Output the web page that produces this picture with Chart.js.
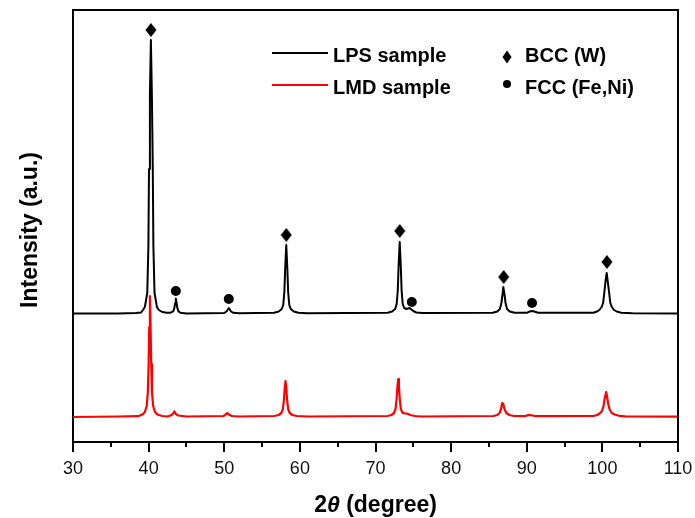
<!DOCTYPE html>
<html>
<head>
<meta charset="utf-8">
<script src="https://cdn.jsdelivr.net/npm/chart.js@4/dist/chart.umd.min.js"></script>
<style>
  body { margin: 0; background: #fff; }
  #grafica { display: block; }
</style>
</head>
<body>
<canvas id="grafica" width="695" height="518"></canvas>
<script>
const anguloLPS = [30, 36, 38.3, 39.0, 39.25, 39.5, 39.82, 39.97, 40.05, 40.17, 40.3, 40.43, 40.55, 40.63,
  40.78, 41.1, 41.35, 41.8, 42.4, 42.9, 43.25, 43.4, 43.5, 43.6, 43.7, 43.8, 43.95, 44.2, 45,
  50.0, 50.3, 50.45, 50.6, 50.75, 50.9, 51.2, 52, 56.6, 57.2, 57.6, 57.8, 57.95, 58.05, 58.2,
  58.35, 58.45, 58.6, 58.8, 59.2, 59.8, 61, 71.6, 72.2, 72.6, 72.8, 72.95, 73.05, 73.2, 73.35,
  73.45, 73.6, 73.8, 74.1, 74.5, 74.75, 75.0, 75.4, 76.2, 85.5, 86.1, 86.45, 86.65, 86.8, 86.9,
  87.05, 87.2, 87.4, 87.75, 88.4, 90.0, 90.4, 90.7, 91.0, 91.5, 98.8, 99.3, 99.6, 99.9, 100.1,
  100.25, 100.4, 100.57, 100.72, 100.9, 101.05, 101.25, 101.55, 101.9, 102.5, 104, 110];
const intensidadLPS = [128.5, 128.5, 129, 129.5, 132, 135, 149, 196, 273, 347, 402, 347, 273, 196,
  149, 135, 132, 130, 129.2, 129.3, 130.6, 133.8, 138.8, 143.4, 138.8, 133.8, 130.6, 129.3, 128.6,
  129, 130.5, 132.3, 134, 132.3, 130.5, 129.2, 128.7, 129.2, 130.5, 133, 137, 150, 172, 197,
  172, 150, 137, 133, 130.5, 129.2, 128.8, 129.2, 130.5, 133, 138, 152, 175, 200, 175,
  152, 138, 134, 133, 134, 132.5, 131, 129.5, 129, 129.2, 130.5, 133, 139, 148, 155,
  148, 139, 133, 130.5, 129.2, 129.2, 130.5, 131, 130.5, 129.3, 129.3, 130.5, 132, 135, 139,
  149, 160, 169, 160, 149, 139, 135, 132, 130.5, 129.3, 128.8, 128.5];

const anguloLMD = [30, 36, 38.6, 39.2, 39.5, 39.75, 39.9, 40.0, 40.08, 40.17, 40.26, 40.34, 40.44, 40.6,
  40.85, 41.15, 41.8, 42.5, 42.9, 43.2, 43.4, 43.6, 43.9, 45, 49.9, 50.2, 50.4, 50.6, 51.0, 52,
  56.6, 57.2, 57.55, 57.75, 57.9, 58.0, 58.1, 58.2, 58.3, 58.45, 58.65, 59.0, 59.6, 61, 71.6,
  72.1, 72.45, 72.65, 72.8, 72.9, 73.0, 73.1, 73.2, 73.35, 73.55, 73.8, 74.1, 74.3, 74.6, 75.2,
  76, 85.6, 86.1, 86.4, 86.6, 86.75, 86.9, 87.05, 87.3, 87.7, 88.3, 89.7, 90.2, 90.6, 91.2,
  98.8, 99.3, 99.65, 99.95, 100.15, 100.3, 100.5, 100.65, 100.8, 100.98, 101.25, 101.6, 102.2,
  103, 110];
const intensidadLMD = [25, 25.5, 25.8, 27.5, 30, 36, 50, 78, 115, 146, 115, 78, 50, 36,
  30, 27.5, 26, 25.5, 26.5, 28, 30.5, 28, 26.5, 25.5, 26, 27.5, 29, 27.5, 26, 25.5,
  26, 27, 29, 33, 43, 54, 61, 54, 43, 33, 29, 27, 26, 25.5, 26,
  27, 29, 33, 44, 55, 63, 55, 44, 33, 29.5, 28.5, 28.5, 28, 27, 26,
  25.5, 26, 27, 29, 33, 39, 38, 33, 29, 27, 26, 25.8, 27, 26.8, 25.8,
  26, 27, 28.5, 31, 36, 43, 50, 44, 37, 32, 29, 27.5, 26.2,
  25.7, 25.3];

// marcadores de fases
const anguloBCC = [40.3, 58.2, 73.2, 86.95, 100.6];
const alturaBCC = [412, 207, 211, 165, 180];
const anguloFCC = [43.6, 50.6, 74.8, 90.7];
const alturaFCC = [151, 143, 140, 139];

const ticksX = [30, 40, 50, 60, 70, 80, 90, 100, 110];
const ticksMenores = [35, 45, 55, 65, 75, 85, 95, 105];

const fuente = '"Liberation Sans", Arial, sans-serif';

function puntos(xs, ys) {
  return xs.map((x, i) => ({ x: x, y: ys[i] }));
}

function dibujarRombo(ctx, cx, cy, ancho, alto) {
  ctx.beginPath();
  ctx.moveTo(cx, cy - alto / 2);
  ctx.lineTo(cx + ancho / 2, cy);
  ctx.lineTo(cx, cy + alto / 2);
  ctx.lineTo(cx - ancho / 2, cy);
  ctx.closePath();
  ctx.fill();
}

// rombo un poco mas alto que ancho, como en la figura
const rombo = document.createElement("canvas");
rombo.width = 12;
rombo.height = 14;
const ctxRombo = rombo.getContext("2d");
ctxRombo.fillStyle = "#000";
dibujarRombo(ctxRombo, 6, 7, 11, 14);

// marco, ticks menores, titulos de ejes y leyenda
const decoracion = {
  id: "decoracion",
  afterDraw(chart) {
    const ctx = chart.ctx;
    const area = chart.chartArea;
    const escalaX = chart.scales.x;
    ctx.save();
    ctx.strokeStyle = "#000";
    ctx.lineWidth = 2;
    ctx.beginPath();
    ctx.moveTo(area.left, area.top);
    ctx.lineTo(area.right, area.top);
    ctx.lineTo(area.right, area.bottom);
    ctx.stroke();

    ticksMenores.forEach((v) => {
      const px = Math.round(escalaX.getPixelForValue(v));
      ctx.beginPath();
      ctx.moveTo(px, area.bottom);
      ctx.lineTo(px, area.bottom + 5);
      ctx.stroke();
    });

    // titulo eje x: 2θ (degree)
    ctx.fillStyle = "#000";
    ctx.textBaseline = "alphabetic";
    const partes = [
      { t: "2", f: "bold 23px " + fuente },
      { t: "\u03B8", f: "italic bold 23px " + fuente },
      { t: " (degree)", f: "bold 23px " + fuente },
    ];
    let ancho = 0;
    partes.forEach((p) => { ctx.font = p.f; p.w = ctx.measureText(p.t).width; ancho += p.w; });
    let x = (area.left + area.right) / 2 - ancho / 2;
    partes.forEach((p) => { ctx.font = p.f; ctx.fillText(p.t, x, 512); x += p.w; });

    // titulo eje y
    ctx.save();
    ctx.translate(37, 230);
    ctx.rotate(-Math.PI / 2);
    ctx.font = "bold 23px " + fuente;
    ctx.textAlign = "center";
    ctx.fillText("Intensity (a.u.)", 0, 0);
    ctx.restore();

    // leyenda
    ctx.font = "bold 20px " + fuente;
    ctx.textAlign = "left";
    ctx.textBaseline = "middle";
    const filas = [
      { color: "#000", texto: "LPS sample", y: area.top + 43 },
      { color: "#ff0000", texto: "LMD sample", y: area.top + 75 },
    ];
    filas.forEach((f) => {
      ctx.strokeStyle = f.color;
      ctx.lineWidth = 2;
      ctx.beginPath();
      ctx.moveTo(272, f.y);
      ctx.lineTo(328, f.y);
      ctx.stroke();
      ctx.fillStyle = "#000";
      ctx.fillText(f.texto, 333, f.y + 3);
    });
    ctx.fillStyle = "#000";
    dibujarRombo(ctx, 507, area.top + 47, 9, 13);
    ctx.fillText("BCC (W)", 525, area.top + 46);
    ctx.beginPath();
    ctx.arc(507, area.top + 74, 4, 0, Math.PI * 2);
    ctx.fill();
    ctx.fillText("FCC (Fe,Ni)", 525, area.top + 78);
    ctx.restore();
  },
};

const configuracion = {
  type: "line",
  data: {
    datasets: [
      {
        label: "LPS sample",
        data: puntos(anguloLPS, intensidadLPS),
        borderColor: "#000",
        borderWidth: 2,
        borderJoinStyle: "round",
        pointRadius: 0,
        tension: 0,
      },
      {
        label: "LMD sample",
        data: puntos(anguloLMD, intensidadLMD),
        borderColor: "#ff0000",
        borderWidth: 2.2,
        borderJoinStyle: "round",
        pointRadius: 0,
        tension: 0,
      },
      {
        label: "BCC (W)",
        type: "scatter",
        data: puntos(anguloBCC, alturaBCC),
        pointStyle: rombo,
        pointRadius: 6,
        showLine: false,
      },
      {
        label: "FCC (Fe,Ni)",
        type: "scatter",
        data: puntos(anguloFCC, alturaFCC),
        pointStyle: "circle",
        pointRadius: 5,
        backgroundColor: "#000",
        borderColor: "#000",
        borderWidth: 0,
        showLine: false,
      },
    ],
  },
  options: {
    responsive: false,
    animation: false,
    layout: { padding: { top: 10, right: 17, left: 0, bottom: 0 } },
    plugins: { legend: { display: false }, tooltip: { enabled: false } },
    scales: {
      x: {
        type: "linear",
        min: 30,
        max: 110,
        afterBuildTicks: (s) => { s.ticks = ticksX.map((v) => ({ value: v })); },
        afterFit: (s) => {
          s.height = 76;
          s.paddingLeft = 0;
          s.paddingRight = 0;
        },
        ticks: {
          font: { family: fuente, size: 18 },
          color: "#111",
          padding: 6,
          maxRotation: 0,
        },
        grid: {
          drawOnChartArea: false,
          tickLength: 10,
          color: "#000",
          lineWidth: 2,
        },
        border: { color: "#000", width: 2 },
      },
      y: {
        min: 0,
        max: 432,
        afterFit: (s) => { s.width = 73; },
        ticks: { display: false },
        grid: { display: false },
        border: { color: "#000", width: 2 },
      },
    },
  },
  plugins: [decoracion],
};

const graficaDOM = document.querySelector("#grafica");
const grafica = new Chart(graficaDOM, configuracion);
</script>
</body>
</html>
